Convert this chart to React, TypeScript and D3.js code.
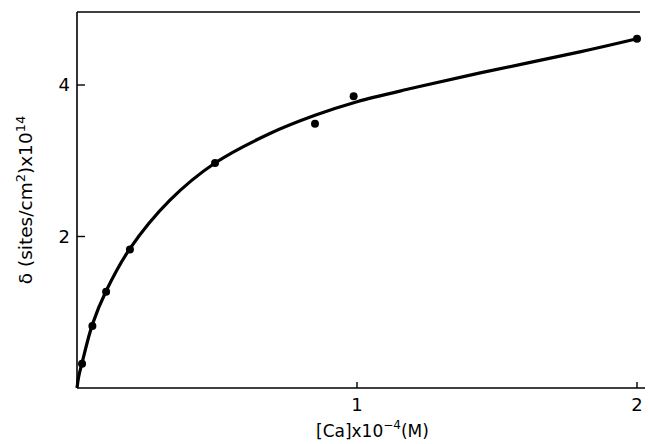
import { useMemo } from "react";
import * as d3 from "d3";

// measured points
const concX = [0.018, 0.055, 0.104, 0.189, 0.493, 0.85, 0.988, 2.0];
const sitesY = [0.32, 0.82, 1.27, 1.83, 2.97, 3.49, 3.85, 4.61];

// hand-drawn fit line
const fitX = [0, 0.006, 0.018, 0.055, 0.104, 0.189, 0.332, 0.493, 0.689, 0.85, 1.0, 1.2, 1.44, 1.8, 2.0];
const fitY = [0, 0.15, 0.33, 0.84, 1.28, 1.84, 2.48, 2.97, 3.36, 3.6, 3.78, 3.96, 4.16, 4.44, 4.61];

const xTicks = [1, 2];
const yTicks = [2, 4];

const W = 649;
const H = 444;
const FONT = "'DejaVu Sans', sans-serif";

export default function App() {
  const x = useMemo(() => d3.scaleLinear().domain([0, 2]).range([77, 637]), []);
  const y = useMemo(() => d3.scaleLinear().domain([0, 4]).range([388, 85]), []);

  const fitPath = useMemo(() => {
    const line = d3
      .line<number>()
      .x((d, i) => x(fitX[i]))
      .y((d) => y(d))
      .curve(d3.curveCatmullRom.alpha(0.5));
    return line(fitY);
  }, [x, y]);

  const x0 = x(0);
  const y0 = y(0);

  return (
    <svg width={W} height={H} style={{ position: "absolute", left: 0, top: 0, background: "#fff" }}>
      {/* frame: left, bottom, top */}
      <line x1={x0} x2={x0} y1={12} y2={y0} stroke="#000" strokeWidth={1.6} />
      <line x1={x0} x2={645} y1={y0} y2={y0} stroke="#000" strokeWidth={1.6} />
      <line x1={x0} x2={640} y1={12} y2={12} stroke="#000" strokeWidth={1.6} />

      {yTicks.map((t) => (
        <g key={"y" + t}>
          <line x1={x0} x2={x0 + 8} y1={y(t)} y2={y(t)} stroke="#000" strokeWidth={1.4} />
          <text x={x0 - 7} y={y(t)} dy="0.36em" textAnchor="end" fontFamily={FONT} fontSize={18}>
            {t}
          </text>
        </g>
      ))}
      {xTicks.map((t) => (
        <g key={"x" + t}>
          <line x1={x(t)} x2={x(t)} y1={y0} y2={y0 - 6} stroke="#000" strokeWidth={1.4} />
          <text x={x(t)} y={y0 + 23} textAnchor="middle" fontFamily={FONT} fontSize={18}>
            {t}
          </text>
        </g>
      ))}

      <path d={fitPath ?? ""} fill="none" stroke="#000" strokeWidth={3.2} strokeLinejoin="round" />
      {concX.map((c, i) => (
        <circle key={i} cx={x(c)} cy={y(sitesY[i])} r={4} fill="#000" />
      ))}

      <text
        transform={`translate(32,200) rotate(-90)`}
        textAnchor="middle"
        fontFamily={FONT}
        fontSize={18.5}
      >
        δ (sites/cm<tspan dy={-7} fontSize={13}>2</tspan>
        <tspan dy={7}>)x10</tspan>
        <tspan dy={-7} fontSize={13}>14</tspan>
      </text>
      <text x={316} y={437} textAnchor="start" fontFamily={FONT} fontSize={17}>
        [Ca]x10<tspan dy={-8} fontSize={12}>−4</tspan>
        <tspan dy={8}>(M)</tspan>
      </text>
    </svg>
  );
}
